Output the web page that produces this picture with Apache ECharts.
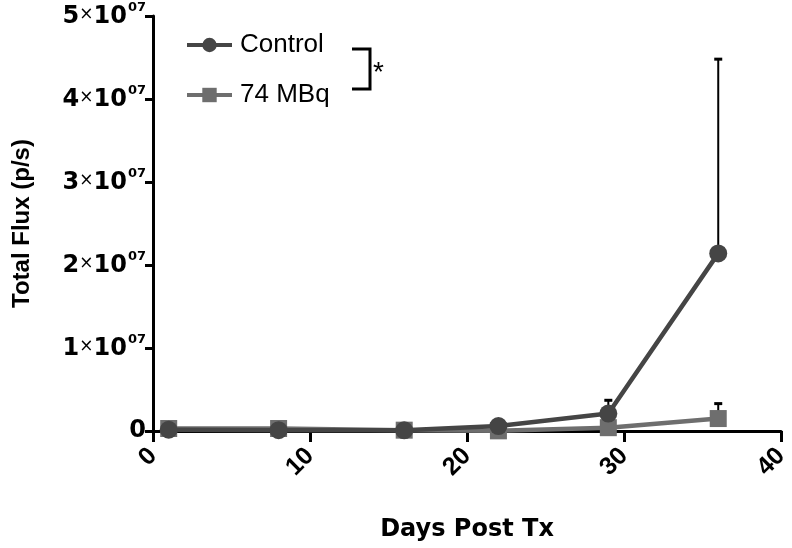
<!DOCTYPE html>
<html>
<head>
<meta charset="utf-8">
<script src="https://cdn.jsdelivr.net/npm/echarts@6/dist/echarts.min.js"></script>
<style>html,body{margin:0;padding:0;background:#fff}#c{width:792px;height:548px}</style>
</head>
<body>
<div id="c"></div>
<script>
const days = [1, 8, 16, 22, 29, 36];
const controlMean = [1.5e5, 1.0e5, 0.8e5, 6.0e5, 2.1e6, 2.14e7];
const controlErr  = [1.0e5, 0.8e5, 0.6e5, 2.0e5, 1.6e6, 2.34e7];
const mbqMean = [3.0e5, 3.0e5, 1.0e5, 0.2e5, 4.0e5, 1.5e6];
const mbqErr  = [1.0e5, 1.0e5, 0.5e5, 0.3e5, 2.0e5, 1.8e6];
const seriesNames = ['Control', '74 MBq'];
const xTicks = {min: 0, max: 40, interval: 10};
const yTicks = {min: 0, max: 5e7, interval: 1e7};

const FONT = '"Liberation Sans", Arial, sans-serif';
const WIDE = '"DejaVu Sans", "Liberation Sans", sans-serif';
const chart = echarts.init(document.getElementById('c'), null, {renderer: 'canvas'});

function errSeries(mean, err, z) {
  return {
    type: 'custom',
    z: z,
    silent: true,
    data: days.map((d, i) => [d, mean[i], mean[i] + err[i]]),
    renderItem: function (params, api) {
      const p0 = api.coord([api.value(0), api.value(1)]);
      const p1 = api.coord([api.value(0), api.value(2)]);
      const hw = 4;
      return {
        type: 'group',
        children: [
          {type: 'line', shape: {x1: p0[0], y1: p0[1], x2: p1[0], y2: p1[1]}, style: {stroke: '#000', lineWidth: 2}},
          {type: 'line', shape: {x1: p1[0] - hw, y1: p1[1], x2: p1[0] + hw, y2: p1[1]}, style: {stroke: '#000', lineWidth: 3}}
        ]
      };
    }
  };
}

const option = {
  animation: false,
  backgroundColor: '#fff',
  grid: {left: 153, right: 7, top: 16, bottom: 117, containLabel: false},
  legend: {
    orient: 'vertical',
    left: 180,
    top: 27,
    itemWidth: 45,
    itemHeight: 18,
    itemGap: 24,
    lineStyle: {width: 4},
    textStyle: {fontFamily: FONT, fontSize: 26, color: '#000', padding: [0, 0, 0, 3]},
    data: seriesNames
  },
  xAxis: {
    type: 'value',
    min: xTicks.min, max: xTicks.max, interval: xTicks.interval,
    name: 'Days Post Tx',
    nameLocation: 'middle',
    nameGap: 87,
    nameTextStyle: {fontFamily: WIDE, fontSize: 24, fontWeight: 'bold', color: '#000'},
    axisLine: {lineStyle: {color: '#000', width: 3}},
    axisTick: {show: true, length: 11, lineStyle: {color: '#000', width: 3}},
    splitLine: {show: false},
    axisLabel: {rotate: 45, margin: 21, fontFamily: FONT, fontSize: 25, fontWeight: 'bold', color: '#000'}
  },
  yAxis: {
    type: 'value',
    min: yTicks.min, max: yTicks.max, interval: yTicks.interval,
    name: 'Total Flux (p/s)',
    nameLocation: 'middle',
    nameGap: 119,
    nameTextStyle: {fontFamily: FONT, fontSize: 24, fontWeight: 'bold', color: '#000'},
    axisLine: {show: true, lineStyle: {color: '#000', width: 3}},
    axisTick: {show: true, length: 8, lineStyle: {color: '#000', width: 3}},
    splitLine: {show: false},
    axisLabel: {
      margin: 7,
      fontFamily: WIDE, fontSize: 25, fontWeight: 'bold', color: '#000',
      formatter: function (v) {
        if (v === 0) return '{b|0}';
        return '{b|' + Math.round(v / 1e7) + '}{x|×}{b|10}{s|07}';
      },
      rich: {
        b: {fontFamily: WIDE, fontSize: 24, fontWeight: 'bold', color: '#000', height: 28, verticalAlign: 'bottom'},
        x: {fontFamily: WIDE, fontSize: 17, fontWeight: 'normal', color: '#000', height: 28, verticalAlign: 'bottom', padding: [0, 0, 2, 0]},
        s: {fontFamily: WIDE, fontSize: 13, fontWeight: 'bold', color: '#000', verticalAlign: 'top', padding: [0, 0, 0, 1]}
      }
    }
  },
  series: [
    errSeries(controlMean, controlErr, 1),
    errSeries(mbqMean, mbqErr, 1),
    {
      name: seriesNames[1],
      type: 'line',
      z: 2,
      data: days.map((d, i) => [d, mbqMean[i]]),
      symbol: 'rect',
      symbolSize: 17,
      itemStyle: {color: '#6e6e6e'},
      lineStyle: {color: '#6e6e6e', width: 4.5}
    },
    {
      name: seriesNames[0],
      type: 'line',
      z: 3,
      data: days.map((d, i) => [d, controlMean[i]]),
      symbol: 'circle',
      symbolSize: 18,
      itemStyle: {color: '#454545'},
      lineStyle: {color: '#454545', width: 4.5}
    }
  ],
  graphic: [
    {type: 'polyline', shape: {points: [[352, 49], [370, 49], [370, 89], [352, 89]]}, style: {stroke: '#000', lineWidth: 3, fill: null}},
    {type: 'text', left: 373, top: 59, style: {text: '*', fontFamily: FONT, fontSize: 28, fill: '#000'}}
  ]
};
chart.setOption(option);
</script>
</body>
</html>
